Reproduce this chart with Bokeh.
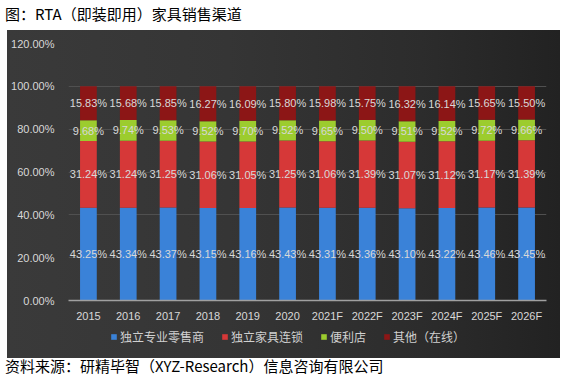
from bokeh.plotting import figure
from bokeh.models import Div, ColumnDataSource, Legend, LegendItem, CustomJSTickFormatter, FixedTicker
from bokeh.layouts import column
from bokeh.embed import file_html
from bokeh.resources import INLINE
from bokeh.core.properties import value

years = ["2015", "2016", "2017", "2018", "2019", "2020", "2021F", "2022F", "2023F", "2024F", "2025F", "2026F"]
series_names = ["独立专业零售商", "独立家具连锁", "便利店", "其他（在线）"]
retail = [43.25, 43.34, 43.37, 43.15, 43.16, 43.43, 43.31, 43.36, 43.10, 43.22, 43.46, 43.45]
chain = [31.24, 31.24, 31.25, 31.06, 31.05, 31.25, 31.06, 31.39, 31.07, 31.12, 31.17, 31.39]
conv = [9.68, 9.74, 9.53, 9.52, 9.70, 9.52, 9.65, 9.50, 9.51, 9.52, 9.72, 9.66]
online = [15.83, 15.68, 15.85, 16.27, 16.09, 15.80, 15.98, 15.75, 16.32, 16.14, 15.65, 15.50]
y_ticks = [0, 20, 40, 60, 80, 100, 120]

colors = ["#3a82d8", "#d63838", "#9ccc2e", "#8c1616"]
keys = ["retail", "chain", "conv", "online"]
series = [retail, chain, conv, online]

BG = "linear-gradient(90deg, #3a3a3a 0%, #353535 40%, #2c2c2c 75%, #222222 100%)"

data = {"year": years}
for k, s in zip(keys, series):
    data[k] = s
src = ColumnDataSource(data)

p = figure(x_range=years, y_range=(0, 120), width=553, height=296,
           output_backend="svg", toolbar_location=None,
           min_border_top=13, min_border_left=61, min_border_right=14, min_border_bottom=26)
p.margin = (0, 0, 0, 7)
p.border_fill_alpha = 0
p.background_fill_alpha = 0
p.outline_line_color = None
p.styles = {"background": BG}

renderers = p.vbar_stack(keys, x="year", width=0.42, source=src, color=colors, line_color=None)

# labels centered in each segment
bottom = [0.0] * len(years)
for s in series:
    centers = [b + v / 2 for b, v in zip(bottom, s)]
    texts = ["%.2f%%" % v for v in s]
    p.text(x=years, y=centers, text=texts, text_align="center", text_baseline="middle",
           text_color="#d8d8d8", text_font_size="11px", text_font=value("Liberation Sans"))
    bottom = [b + v for b, v in zip(bottom, s)]

p.yaxis.ticker = FixedTicker(ticks=y_ticks)
p.yaxis.formatter = CustomJSTickFormatter(code="return tick.toFixed(2) + '%';")
for ax in (p.xaxis, p.yaxis):
    ax.major_tick_line_color = None
    ax.minor_tick_line_color = None
    ax.major_label_text_color = "#d8d8d8"
    ax.major_label_text_font_size = "11px"
    ax.major_label_text_font = "Liberation Sans"
p.yaxis.axis_line_color = None
p.xaxis.axis_line_color = "#a0a0a0"
p.xaxis.axis_line_width = 1.5
p.xaxis.major_label_standoff = 3
p.yaxis.major_label_standoff = 8
p.xgrid.grid_line_color = None
p.ygrid.grid_line_color = "#505050"
p.ygrid.grid_line_width = 1

# legend strip: stacked bars from the same data, kept out of view, serve as legend glyphs
lg = figure(x_range=years, y_range=(1000, 1001), width=553, height=32,
            output_backend="svg", toolbar_location=None,
            min_border_top=0, min_border_left=0, min_border_right=0, min_border_bottom=0)
lg.margin = (0, 0, 0, 7)
lg.axis.visible = False
lg.grid.grid_line_color = None
lg.border_fill_alpha = 0
lg.background_fill_alpha = 0
lg.outline_line_color = None
lg.styles = {"background": BG}
legend_rs = lg.vbar_stack(keys, x="year", width=0.42, source=src, color=colors, line_color=None)
legend = Legend(items=[LegendItem(label=n, renderers=[r]) for n, r in zip(series_names, legend_rs)],
                orientation="horizontal", location=(42, 13))
legend.background_fill_alpha = 0
legend.border_line_color = None
legend.label_text_color = "#d0d0d0"
legend.label_text_font_size = "12px"
legend.label_text_font = "Noto Sans CJK SC"
legend.glyph_width = 7
legend.glyph_height = 7
legend.spacing = 17
legend.label_standoff = 3
legend.margin = 0
legend.padding = 0
legend.label_height = 14
lg.add_layout(legend, "center")

title = Div(text="图：RTA（即装即用）家具销售渠道", width=554, height=20,
            styles={"font-family": "Noto Sans CJK SC", "font-size": "15px", "color": "#000",
                    "line-height": "18px"})
source = Div(text="资料来源：研精毕智（XYZ-Research）信息咨询有限公司", width=554, height=20,
             styles={"font-family": "Noto Sans CJK SC", "font-size": "15px", "color": "#000",
                     "line-height": "16px", "margin-top": "0px"})

layout = column(title, p, lg, source, spacing=0)
open("out.html", "w").write(file_html(layout, INLINE))
